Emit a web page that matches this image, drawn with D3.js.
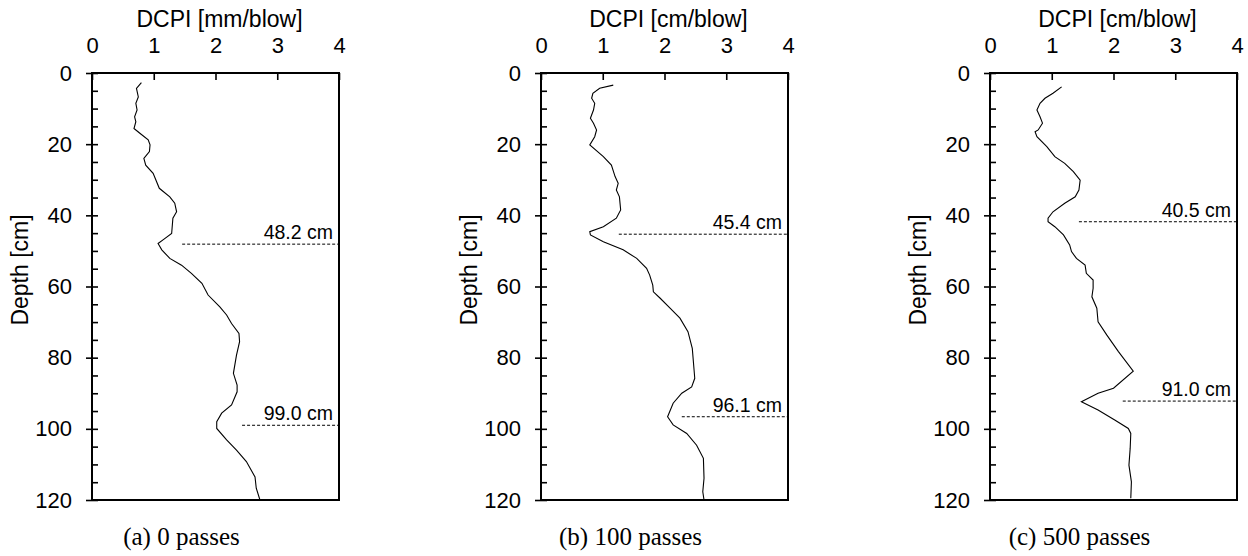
<!DOCTYPE html>
<html>
<head>
<meta charset="utf-8">
<script src="https://cdn.jsdelivr.net/npm/d3@7"></script>
<style>
  html, body { margin: 0; padding: 0; background: #fff; }
  svg { display: block; font-family: "Liberation Sans", Arial, sans-serif; }
  .caption { font-family: "Liberation Serif", "Times New Roman", serif; }
</style>
</head>
<body>
<svg id="chart" width="1248" height="556"></svg>
<script>
  // depth [cm] and DCPI
  var depthA = [2.7, 4.3, 6.7, 8.5, 10.4, 12.3, 13.7, 15.6, 17.0, 18.8, 20.2, 22.1, 24.0, 25.9, 28.2, 32.4, 34.8, 36.6, 39.0, 40.8, 45.1, 46.9, 47.9, 49.7, 52.1, 54.0, 56.3, 59.1, 62.4, 65.7, 68.0, 70.4, 73.2, 75.5, 79.3, 84.4, 87.7, 89.6, 93.3, 95.6, 98.0, 99.9, 103.1, 106.0, 109.2, 113.5, 116.7, 120];
  var dcpiA = [0.80, 0.72, 0.75, 0.71, 0.73, 0.69, 0.71, 0.68, 0.78, 0.91, 0.94, 0.93, 0.84, 0.87, 0.99, 1.09, 1.26, 1.34, 1.37, 1.31, 1.29, 1.15, 1.07, 1.13, 1.26, 1.45, 1.61, 1.78, 1.88, 2.07, 2.18, 2.26, 2.38, 2.39, 2.34, 2.29, 2.35, 2.35, 2.26, 2.10, 2.02, 2.02, 2.18, 2.34, 2.50, 2.64, 2.66, 2.72];

  var depthB = [3.4, 4.3, 5.7, 7.1, 8.5, 10.4, 12.7, 14.1, 16.0, 17.9, 20.2, 23.5, 25.9, 29.1, 31.0, 32.9, 34.8, 38.5, 40.8, 43.2, 44.6, 45.5, 47.4, 49.7, 52.1, 54.9, 56.8, 59.6, 61.5, 63.3, 66.1, 68.9, 72.7, 77.4, 85.8, 88.2, 90.0, 92.8, 96.6, 98.9, 101.3, 104.6, 108.3, 113.9, 117.7, 120];
  var dcpiB = [1.17, 0.95, 0.84, 0.82, 0.87, 0.85, 0.80, 0.85, 0.90, 0.87, 0.79, 1.01, 1.14, 1.20, 1.25, 1.22, 1.27, 1.29, 1.22, 1.01, 0.79, 0.80, 1.01, 1.33, 1.55, 1.71, 1.76, 1.81, 1.82, 1.93, 2.09, 2.25, 2.38, 2.45, 2.49, 2.44, 2.28, 2.14, 2.05, 2.14, 2.36, 2.52, 2.63, 2.64, 2.62, 2.64];

  var depthC = [3.9, 5.7, 7.1, 8.5, 10.4, 12.3, 14.1, 16.0, 16.5, 17.9, 20.7, 23.5, 25.4, 27.7, 30.1, 32.9, 34.8, 36.6, 39.0, 40.8, 41.8, 43.2, 45.5, 48.3, 50.2, 52.1, 54.0, 56.3, 58.2, 60.5, 62.9, 66.1, 69.9, 73.6, 78.3, 83.8, 88.6, 90.0, 92.4, 94.7, 97.5, 99.9, 101.3, 105.5, 110.2, 114.9, 119.5];
  var dcpiC = [1.16, 1.02, 0.89, 0.81, 0.76, 0.81, 0.85, 0.78, 0.73, 0.76, 0.92, 1.05, 1.21, 1.35, 1.46, 1.44, 1.38, 1.21, 1.02, 0.94, 0.94, 1.05, 1.19, 1.29, 1.32, 1.40, 1.54, 1.56, 1.67, 1.67, 1.65, 1.73, 1.75, 1.89, 2.08, 2.32, 2.00, 1.75, 1.48, 1.75, 2.02, 2.24, 2.28, 2.27, 2.25, 2.29, 2.28];

  // layer boundaries: where the dashed line sits, where it starts, its label
  var layerDepthA = [48.1, 99.0], layerStartA = [1.46, 2.43], layerTextA = ['48.2 cm', '99.0 cm'];
  var layerDepthB = [45.3, 96.6], layerStartB = [1.26, 2.28], layerTextB = ['45.4 cm', '96.1 cm'];
  var layerDepthC = [41.8, 92.2], layerStartC = [1.44, 2.15], layerTextC = ['40.5 cm', '91.0 cm'];

  var xTitles = ['DCPI [mm/blow]', 'DCPI [cm/blow]', 'DCPI [cm/blow]'];
  var captions = ['(a) 0 passes', '(b) 100 passes', '(c) 500 passes'];
  var xTicks = [0, 1, 2, 3, 4];
  var yTicks = [0, 20, 40, 60, 80, 100, 120];

  var panels = [
    { left: 92, depth: depthA, dcpi: dcpiA, ld: layerDepthA, ls: layerStartA, lt: layerTextA },
    { left: 541, depth: depthB, dcpi: dcpiB, ld: layerDepthB, ls: layerStartB, lt: layerTextB },
    { left: 990, depth: depthC, dcpi: dcpiC, ld: layerDepthC, ls: layerStartC, lt: layerTextC }
  ];

  var plotTop = 73, plotW = 247, plotH = 427;
  var svg = d3.select('#chart');

  var y = d3.scaleLinear().domain([0, 120]).range([0, plotH]);
  var x = d3.scaleLinear().domain([0, 4]).range([0, plotW]);

  panels.forEach(function(p, i) {
    var g = svg.append('g').attr('transform', 'translate(' + p.left + ',' + plotTop + ')');

    // x axis on top: labels outside, ticks pointing in
    var xAxis = g.append('g').call(
      d3.axisTop(x).tickValues(xTicks).tickFormat(d3.format('d'))
        .tickSizeInner(-7).tickSizeOuter(0).tickPadding(20)
    );
    xAxis.select('.domain').remove();
    xAxis.selectAll('line').attr('stroke', '#000').attr('stroke-width', 1.6);
    xAxis.selectAll('text').attr('font-size', 22).attr('fill', '#000')
      .attr('font-family', '"Liberation Sans", Arial, sans-serif');

    // y axis: major ticks outside with labels
    var yAxis = g.append('g').call(
      d3.axisLeft(y).tickValues(yTicks).tickFormat(d3.format('d'))
        .tickSizeInner(6).tickSizeOuter(0).tickPadding(14)
    );
    yAxis.select('.domain').remove();
    yAxis.selectAll('line').attr('stroke', '#000').attr('stroke-width', 1.6);
    yAxis.selectAll('text').attr('font-size', 22).attr('fill', '#000')
      .attr('font-family', '"Liberation Sans", Arial, sans-serif');

    // every 5 cm a tick inside the box
    var yInner = g.append('g').call(
      d3.axisRight(y).tickValues(d3.range(0, 121, 5)).tickSizeInner(6).tickSizeOuter(0).tickFormat('')
    );
    yInner.select('.domain').remove();
    yInner.selectAll('line').attr('stroke', '#000').attr('stroke-width', 1.6);

    // frame
    g.append('rect')
      .attr('x', 0).attr('y', 0)
      .attr('width', plotW).attr('height', plotH)
      .attr('fill', 'none').attr('stroke', '#000').attr('stroke-width', 2);

    // axis titles
    g.append('text')
      .attr('x', plotW / 2 + 4).attr('y', -46)
      .attr('text-anchor', 'middle')
      .attr('font-size', 23)
      .text(xTitles[i]);

    g.append('text')
      .attr('transform', 'translate(-64,' + (270 - plotTop) + ') rotate(-90)')
      .attr('text-anchor', 'middle')
      .attr('font-size', 23)
      .text('Depth [cm]');

    // profile
    var line = d3.line()
      .x(function(d) { return x(d[1]); })
      .y(function(d) { return y(d[0]); });
    g.append('path')
      .datum(d3.zip(p.depth, p.dcpi))
      .attr('d', line)
      .attr('fill', 'none')
      .attr('stroke', '#000')
      .attr('stroke-width', 1.1);

    // layer boundaries
    p.ld.forEach(function(d, j) {
      g.append('line')
        .attr('x1', x(p.ls[j])).attr('x2', x(4))
        .attr('y1', y(d)).attr('y2', y(d))
        .attr('stroke', '#000')
        .attr('stroke-width', 1)
        .attr('stroke-dasharray', '3,2');
      g.append('text')
        .attr('x', x(4) - 6).attr('y', y(d) - 5)
        .attr('text-anchor', 'end')
        .attr('font-size', 19.5)
        .text(p.lt[j]);
    });

    // caption
    g.append('text')
      .attr('class', 'caption')
      .attr('x', 89.5).attr('y', 545 - plotTop)
      .attr('text-anchor', 'middle')
      .attr('font-size', 25)
      .text(captions[i]);
  });
</script>
</body>
</html>
